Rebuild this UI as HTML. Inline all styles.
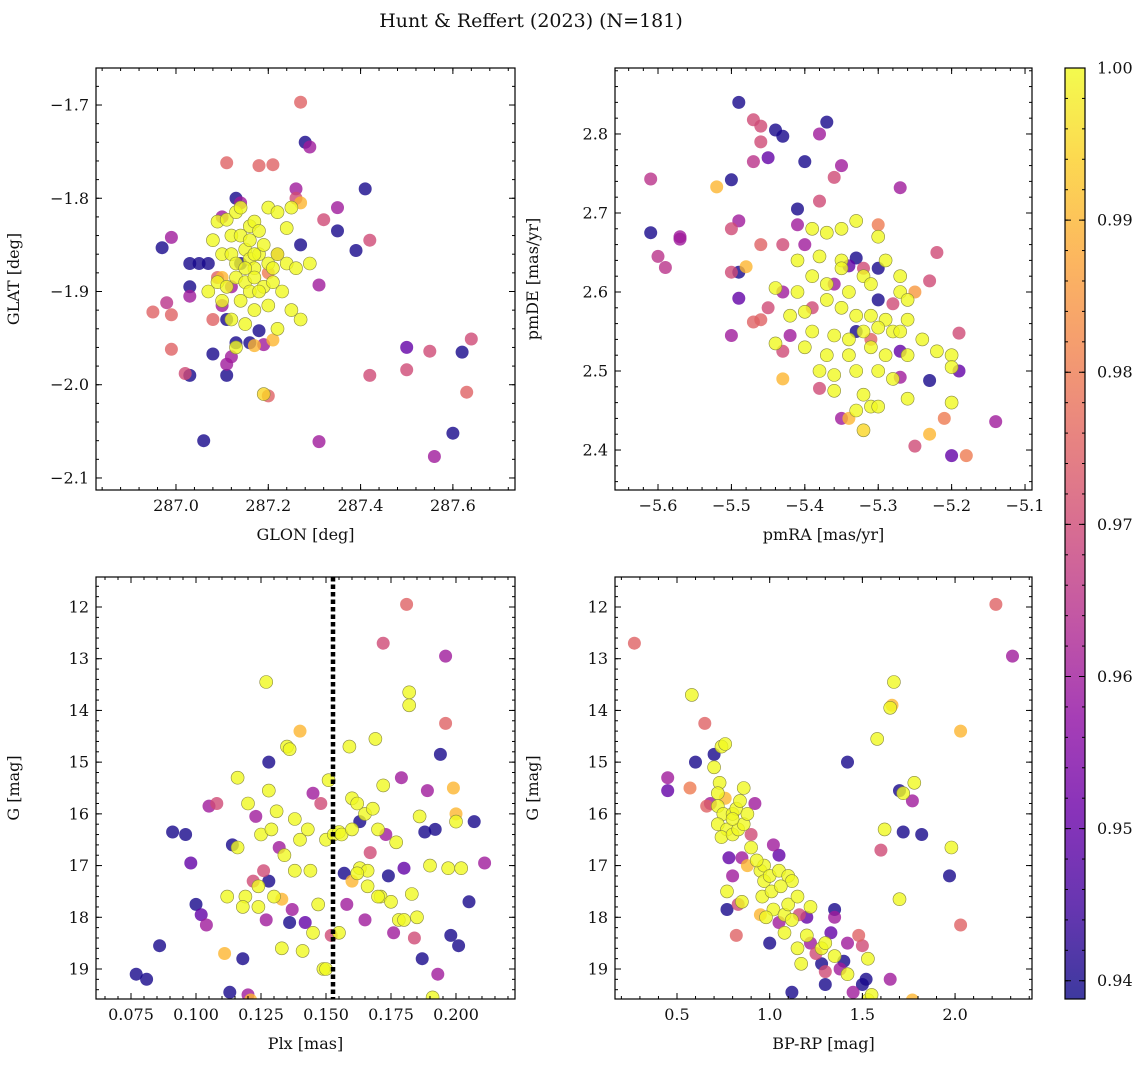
<!DOCTYPE html>
<html><head><meta charset="utf-8"><style>
body{margin:0;background:#fff;}
svg text{font-family:"DejaVu Serif","Liberation Serif",serif;fill:#111;}
</style></head><body>
<svg id="fig" width="1148" height="1067" xmlns="http://www.w3.org/2000/svg">
<rect width="1148" height="1067" fill="#fff"/>
<text x="531" y="27" font-size="19" text-anchor="middle">Hunt &amp; Reffert (2023) (N=181)</text>
</svg>
<script>
// Panel 1: GLON, GLAT, prob
const skyPoints=[[287.27,-1.697,0.975],[287.28,-1.74,0.94],[287.29,-1.745,0.96],[287.41,-1.79,0.94],[287.35,-1.81,0.96],[287.32,-1.823,0.97],[287.35,-1.835,0.94],[287.39,-1.856,0.94],[287.42,-1.845,0.97],[287.11,-1.762,0.975],[287.18,-1.765,0.975],[287.21,-1.764,0.975],[286.97,-1.853,0.94],[286.99,-1.842,0.96],[287.03,-1.87,0.94],[287.05,-1.87,0.94],[287.07,-1.87,0.94],[286.95,-1.922,0.975],[286.98,-1.912,0.965],[286.99,-1.925,0.975],[286.99,-1.962,0.975],[287.03,-1.895,0.94],[287.03,-1.905,0.96],[287.02,-1.988,0.97],[287.03,-1.99,0.94],[287.06,-2.06,0.94],[287.08,-1.967,0.94],[287.08,-1.93,0.975],[287.11,-1.99,0.94],[287.11,-1.978,0.96],[287.12,-1.97,0.96],[287.13,-1.955,0.94],[287.16,-1.955,0.94],[287.17,-1.958,0.99],[287.18,-1.942,0.94],[287.19,-1.957,0.96],[287.21,-1.952,0.99],[287.19,-2.01,0.995],[287.2,-2.012,0.975],[287.31,-1.893,0.96],[287.27,-1.85,0.94],[287.31,-2.061,0.96],[287.42,-1.99,0.97],[287.5,-1.96,0.95],[287.5,-1.984,0.97],[287.55,-1.964,0.97],[287.56,-2.077,0.96],[287.6,-2.052,0.94],[287.62,-1.965,0.94],[287.63,-2.008,0.975],[287.64,-1.951,0.97],[287.26,-1.79,0.96],[287.26,-1.8,0.97],[287.27,-1.805,0.99],[287.13,-1.8,0.94],[287.14,-1.805,0.96],[287.1,-1.82,0.96],[287.09,-1.885,0.975],[287.1,-1.885,0.99],[287.12,-1.895,0.96],[287.14,-1.87,0.94],[287.2,-1.88,0.98],[287.22,-1.86,0.97],[287.1,-1.915,0.96],[287.11,-1.93,0.94],
[287.09,-1.825,1],[287.11,-1.823,1],[287.13,-1.815,1],[287.14,-1.81,1],[287.12,-1.84,1],[287.14,-1.84,1],[287.16,-1.83,1],[287.17,-1.825,1],[287.18,-1.835,1],[287.2,-1.81,1],[287.22,-1.815,1],[287.24,-1.832,1],[287.25,-1.81,1],[287.08,-1.845,1],[287.1,-1.86,1],[287.12,-1.86,1],[287.13,-1.87,1],[287.15,-1.855,1],[287.16,-1.865,1],[287.17,-1.875,1],[287.18,-1.86,1],[287.19,-1.85,1],[287.2,-1.87,1],[287.21,-1.875,1],[287.22,-1.86,1],[287.24,-1.87,1],[287.26,-1.875,1],[287.29,-1.87,1],[287.09,-1.89,1],[287.11,-1.895,1],[287.13,-1.885,1],[287.15,-1.89,1],[287.16,-1.9,1],[287.17,-1.885,1],[287.19,-1.895,1],[287.21,-1.89,1],[287.23,-1.9,1],[287.14,-1.91,1],[287.17,-1.92,1],[287.2,-1.915,1],[287.25,-1.92,1],[287.12,-1.93,1],[287.15,-1.935,1],[287.13,-1.96,1],[287.22,-1.94,1],[287.27,-1.93,1],[287.1,-1.91,1],[287.15,-1.875,1],[287.17,-1.86,1],[287.16,-1.845,1],[287.18,-1.9,1],[287.07,-1.9,1]];
// Panel 2: pmRA, pmDE, prob
const pmPoints=[[-5.49,2.84,0.94],[-5.44,2.805,0.94],[-5.43,2.797,0.94],[-5.37,2.815,0.94],[-5.38,2.8,0.96],[-5.46,2.81,0.97],[-5.47,2.818,0.97],[-5.46,2.79,0.97],[-5.47,2.765,0.965],[-5.45,2.77,0.95],[-5.5,2.742,0.94],[-5.52,2.733,0.99],[-5.61,2.743,0.965],[-5.61,2.675,0.94],[-5.57,2.667,0.96],[-5.57,2.67,0.96],[-5.6,2.645,0.965],[-5.59,2.631,0.965],[-5.4,2.765,0.94],[-5.35,2.76,0.96],[-5.36,2.745,0.97],[-5.38,2.715,0.97],[-5.27,2.732,0.96],[-5.41,2.705,0.94],[-5.49,2.69,0.96],[-5.5,2.68,0.97],[-5.49,2.625,0.94],[-5.5,2.625,0.97],[-5.48,2.632,0.99],[-5.49,2.592,0.95],[-5.5,2.545,0.96],[-5.47,2.562,0.975],[-5.46,2.565,0.975],[-5.45,2.58,0.97],[-5.42,2.545,0.96],[-5.43,2.525,0.97],[-5.43,2.49,0.99],[-5.38,2.478,0.97],[-5.35,2.44,0.96],[-5.34,2.44,0.99],[-5.32,2.425,0.995],[-5.23,2.42,0.99],[-5.25,2.405,0.97],[-5.21,2.44,0.98],[-5.2,2.393,0.95],[-5.18,2.393,0.98],[-5.14,2.436,0.96],[-5.19,2.5,0.95],[-5.19,2.548,0.97],[-5.22,2.65,0.97],[-5.23,2.614,0.97],[-5.23,2.488,0.94],[-5.27,2.492,0.96],[-5.27,2.525,0.95],[-5.3,2.63,0.94],[-5.3,2.59,0.94],[-5.32,2.63,0.97],[-5.34,2.633,0.95],[-5.4,2.66,0.96],[-5.41,2.685,0.96],[-5.43,2.66,0.97],[-5.46,2.66,0.975],[-5.3,2.685,0.98],[-5.33,2.643,0.94],[-5.36,2.61,0.96],[-5.39,2.58,0.97],[-5.43,2.6,0.96],[-5.28,2.585,0.97],[-5.25,2.6,0.985],[-5.31,2.54,0.975],[-5.33,2.55,0.94],
[-5.39,2.68,1],[-5.37,2.675,1],[-5.35,2.68,1],[-5.33,2.69,1],[-5.3,2.67,1],[-5.41,2.64,1],[-5.38,2.645,1],[-5.35,2.64,1],[-5.29,2.64,1],[-5.27,2.62,1],[-5.44,2.605,1],[-5.41,2.6,1],[-5.39,2.62,1],[-5.37,2.61,1],[-5.34,2.6,1],[-5.32,2.62,1],[-5.31,2.61,1],[-5.27,2.6,1],[-5.26,2.59,1],[-5.42,2.57,1],[-5.4,2.575,1],[-5.37,2.59,1],[-5.35,2.58,1],[-5.33,2.57,1],[-5.31,2.57,1],[-5.29,2.565,1],[-5.26,2.565,1],[-5.39,2.55,1],[-5.36,2.545,1],[-5.34,2.54,1],[-5.32,2.55,1],[-5.3,2.555,1],[-5.28,2.55,1],[-5.4,2.53,1],[-5.37,2.52,1],[-5.34,2.52,1],[-5.31,2.53,1],[-5.29,2.52,1],[-5.26,2.52,1],[-5.38,2.5,1],[-5.36,2.495,1],[-5.33,2.5,1],[-5.3,2.5,1],[-5.2,2.52,1],[-5.2,2.505,1],[-5.22,2.525,1],[-5.24,2.54,1],[-5.28,2.49,1],[-5.32,2.47,1],[-5.31,2.455,1],[-5.33,2.45,1],[-5.3,2.455,1],[-5.26,2.465,1],[-5.36,2.475,1],[-5.44,2.535,1],[-5.35,2.63,1],[-5.2,2.46,1],[-5.27,2.55,1]];
// Panel 3: Plx, G, prob
const plxPoints=[[0.077,19.1,0.94],[0.081,19.2,0.94],[0.086,18.55,0.94],[0.091,16.35,0.94],[0.096,16.4,0.94],[0.098,16.95,0.95],[0.1,17.75,0.94],[0.102,17.95,0.95],[0.104,18.15,0.96],[0.105,15.85,0.96],[0.108,15.8,0.97],[0.111,18.7,0.99],[0.113,19.45,0.94],[0.114,16.6,0.94],[0.116,16.65,1],[0.116,15.3,1],[0.118,18.8,0.94],[0.119,17.6,1],[0.12,19.5,0.96],[0.121,19.6,0.99],[0.12,15.8,1],[0.122,17.3,0.97],[0.123,16.05,0.96],[0.124,17.4,1],[0.125,16.4,1],[0.126,17.1,0.97],[0.127,18.05,0.96],[0.128,17.3,0.94],[0.128,15.55,1],[0.129,16.3,1],[0.13,17.6,1],[0.128,15.0,0.94],[0.127,13.45,1],[0.131,15.95,1],[0.132,16.65,0.96],[0.133,17.65,0.99],[0.133,18.6,1],[0.134,16.8,1],[0.135,14.7,1],[0.136,14.75,1],[0.136,18.1,0.94],[0.137,17.85,0.96],[0.138,16.1,1],[0.14,14.4,0.99],[0.14,16.5,1],[0.141,18.65,1],[0.142,18.1,0.95],[0.143,16.3,1],[0.144,17.1,1],[0.145,15.6,0.96],[0.147,17.75,1],[0.148,15.8,0.97],[0.149,19.0,1],[0.15,16.5,1],[0.151,15.35,1],[0.152,18.35,0.97],[0.153,16.4,1],[0.155,16.35,1],[0.156,16.4,1],[0.157,17.15,0.94],[0.158,17.75,0.96],[0.159,14.7,1],[0.16,15.7,1],[0.16,17.3,0.99],[0.162,15.8,1],[0.163,17.05,1],[0.163,16.15,0.94],[0.165,18.05,0.96],[0.165,16.0,1],[0.166,17.4,1],[0.167,16.75,0.97],[0.168,15.9,1],[0.169,14.55,1],[0.17,16.3,1],[0.171,17.6,1],[0.172,12.7,0.97],[0.172,15.45,1],[0.173,16.4,0.96],[0.174,17.2,0.94],[0.175,17.7,1],[0.176,18.3,0.96],[0.177,16.55,1],[0.178,18.05,1],[0.179,15.3,0.96],[0.18,17.05,0.95],[0.181,11.95,0.975],[0.182,13.9,1],[0.182,13.65,1],[0.183,17.55,1],[0.184,18.4,0.97],[0.185,18.0,1],[0.186,16.05,1],[0.187,18.8,0.94],[0.188,16.35,0.94],[0.189,15.55,0.96],[0.19,17.0,1],[0.191,19.55,1],[0.192,16.3,0.94],[0.193,19.1,0.96],[0.194,14.85,0.94],[0.196,12.95,0.96],[0.196,14.25,0.975],[0.197,17.05,1],[0.198,18.35,0.94],[0.199,15.5,0.99],[0.2,16.0,0.99],[0.2,16.15,1],[0.201,18.55,0.94],[0.202,17.05,1],[0.205,17.7,0.94],[0.207,16.15,0.94],[0.211,16.95,0.96],[0.166,17.1,1],[0.16,16.3,1],[0.162,17.15,1],[0.15,19.0,1],[0.145,18.3,1],[0.138,17.1,1],[0.124,17.8,1],[0.118,17.8,1],[0.112,17.6,1],[0.155,18.3,1],[0.17,17.6,1],[0.18,18.05,1]];
const plxCut=[0.1527];
// Panel 4: BP-RP, G, prob
const cmdPoints=[[0.27,12.7,0.975],[2.22,11.95,0.975],[2.31,12.95,0.96],[0.58,13.7,1],[0.65,14.25,0.975],[0.57,15.5,0.98],[0.45,15.3,0.96],[0.45,15.55,0.95],[0.6,15.0,0.94],[0.7,14.85,0.94],[0.74,14.7,1],[0.76,14.65,1],[0.7,15.1,1],[0.73,15.4,1],[0.72,15.6,1],[0.76,15.7,0.99],[0.68,15.8,0.96],[0.66,15.85,0.975],[0.72,15.85,1],[0.75,16.0,1],[0.72,16.2,1],[0.77,16.3,1],[0.74,16.45,1],[0.8,16.0,1],[0.82,15.9,1],[0.84,15.75,1],[0.86,15.5,1],[0.8,16.4,1],[0.83,16.3,1],[0.86,16.2,1],[0.9,16.4,0.97],[0.78,16.85,0.95],[0.8,17.2,0.96],[0.77,17.5,1],[0.77,17.85,0.94],[0.85,16.85,0.96],[0.88,17.0,0.99],[0.83,17.75,0.97],[0.85,17.7,1],[0.82,18.35,0.975],[0.95,17.1,1],[0.97,17.0,1],[0.97,17.3,1],[0.96,17.6,1],[1.0,17.2,1],[1.01,17.5,1],[1.02,17.85,1],[1.05,17.1,1],[1.02,16.6,0.96],[1.05,16.8,0.95],[0.95,17.95,0.99],[0.98,18.0,1],[1.05,18.1,0.96],[1.0,18.5,0.94],[1.08,17.95,1],[1.08,18.3,1],[1.1,17.75,1],[1.15,17.6,1],[1.16,17.95,0.97],[1.12,18.05,1],[1.2,18.0,0.95],[1.22,17.8,1],[1.2,18.35,1],[1.22,18.5,0.96],[1.15,18.6,1],[1.17,18.9,1],[1.12,19.45,0.94],[1.25,18.7,0.97],[1.28,18.6,1],[1.3,18.5,1],[1.28,18.9,0.94],[1.3,19.05,0.97],[1.3,19.3,0.94],[1.33,18.3,0.95],[1.35,17.85,0.94],[1.35,18.0,0.96],[1.35,18.75,1],[1.38,19.0,0.96],[1.4,18.85,0.94],[1.42,19.1,1],[1.42,18.5,0.96],[1.45,19.45,0.96],[1.5,19.3,0.94],[1.52,19.2,0.94],[1.5,18.55,0.97],[1.48,18.35,0.975],[1.53,18.8,1],[1.53,19.6,1],[1.55,19.5,1],[1.65,19.2,0.96],[1.77,19.6,0.99],[1.42,15.0,0.94],[1.58,14.55,1],[1.62,16.3,1],[1.67,13.45,1],[1.66,13.9,0.99],[1.65,13.95,1],[1.7,15.55,0.94],[1.72,15.6,1],[1.72,16.35,0.94],[1.78,15.4,1],[1.77,15.75,0.96],[1.82,16.4,0.94],[1.7,17.65,1],[1.6,16.7,0.97],[1.98,16.65,1],[1.97,17.2,0.94],[2.03,14.4,0.99],[2.03,18.15,0.975],[0.88,16.0,1],[0.92,15.8,0.96],[0.9,16.65,1],[0.93,16.9,1],[0.8,16.1,1],[1.1,17.2,1],[1.12,17.3,1],[1.06,17.4,1]];
const cbTicks=[0.94,0.95,0.96,0.97,0.98,0.99,1.00];
const cMin=0.9388,cMax=1.0;

const NS="http://www.w3.org/2000/svg";
const fig=document.getElementById('fig');
function mk(tag,attrs,parent){const e=document.createElementNS(NS,tag);for(const k in attrs)e.setAttribute(k,attrs[k]);(parent||fig).appendChild(e);return e;}
const stops=[[13,8,135],[65,4,157],[106,0,168],[143,13,164],[177,42,144],[204,71,120],[225,100,98],[242,132,75],[252,166,54],[252,206,37],[240,249,33]];
function plasma(t){t=Math.max(0,Math.min(1,t));const f=t*10,i=Math.min(9,Math.floor(f)),r=f-i;const a=stops[i],b=stops[i+1];return `rgb(${[0,1,2].map(k=>Math.round(a[k]+(b[k]-a[k])*r)).join(',')})`;}
function col(c){return plasma((c-cMin)/(cMax-cMin));}

function panel(name,box,xr,yr,xMaj,xMin,yMaj,yMin,xFmt,yFmt,xlabel,ylabel,pts){
  const [L,T,R,B]=box;
  const sx=v=>L+(v-xr[0])/(xr[1]-xr[0])*(R-L);
  const sy=v=>T+(v-yr[0])/(yr[1]-yr[0])*(B-T);
  const g=mk('g',{});
  
  
  const clipId=name+'-clip';
  const cp=mk('clipPath',{id:clipId},g);mk('rect',{x:L,y:T,width:R-L,height:B-T},cp);
  const pg=mk('g',{'clip-path':`url(#${clipId})`},g);
  
  
  const sorted=pts.slice().sort((a,b)=>a[2]-b[2]);
  sorted.forEach(p=>{
    const hi=p[2]>=0.993;
    const c=mk('circle',{cx:sx(p[0]).toFixed(1),cy:sy(p[1]).toFixed(1),r:6.5,fill:col(p[2]),'fill-opacity':0.8,stroke:hi?'#8a8a40':'none','stroke-width':0.6},pg);
    
    
  });
  mk('rect',{x:L,y:T,width:R-L,height:B-T,fill:'none',stroke:'#000','stroke-width':1.2},g);
  const tl=(v0,v1,step)=>{const a=[];const s=Math.ceil(Math.min(v0,v1)/step-1e-6);for(let k=s;k*step<=Math.max(v0,v1)+1e-9;k++)a.push(+(k*step).toFixed(6));return a;};
  tl(xr[0],xr[1],xMin).forEach(v=>{const x=sx(v);mk('line',{x1:x,x2:x,y1:B,y2:B-3,stroke:'#000'},g);mk('line',{x1:x,x2:x,y1:T,y2:T+3,stroke:'#000'},g);});
  tl(yr[0],yr[1],yMin).forEach(v=>{const y=sy(v);mk('line',{x1:L,x2:L+3,y1:y,y2:y,stroke:'#000'},g);mk('line',{x1:R,x2:R-3,y1:y,y2:y,stroke:'#000'},g);});
  tl(xr[0],xr[1],xMaj).forEach(v=>{const x=sx(v);mk('line',{x1:x,x2:x,y1:B,y2:B-6,stroke:'#000'},g);mk('line',{x1:x,x2:x,y1:T,y2:T+6,stroke:'#000'},g);
    const t=mk('text',{x:x,y:B+21,'font-size':16,'text-anchor':'middle'},g);t.textContent=xFmt(v);
    
    });
  tl(yr[0],yr[1],yMaj).forEach(v=>{const y=sy(v);mk('line',{x1:L,x2:L+6,y1:y,y2:y,stroke:'#000'},g);mk('line',{x1:R,x2:R-6,y1:y,y2:y,stroke:'#000'},g);
    const t=mk('text',{x:L-7,y:y+5.5,'font-size':16,'text-anchor':'end'},g);t.textContent=yFmt(v);
    
    });
  const xt=mk('text',{x:(L+R)/2,y:B+50,'font-size':16,'text-anchor':'middle'},g);xt.textContent=xlabel;
  
  
  const yx=L-77;const yt=mk('text',{x:yx,y:(T+B)/2,'font-size':16,'text-anchor':'middle',transform:`rotate(-90 ${yx} ${(T+B)/2})`},g);yt.textContent=ylabel;
  
  
  return {g,sx,sy,T,B};
}
const minus=s=>s.replace('-','\u2212');
panel('glon-glat-panel',[96,68,515,490],[286.8267,287.7346],[-1.6603,-2.1129],0.2,0.04,0.1,0.02,v=>v.toFixed(1),v=>minus(v.toFixed(1)),'GLON [deg]','GLAT [deg]',skyPoints);
panel('pm-panel',[615,68,1032,490],[-5.6586,-5.0905],[2.8835,2.3494],0.1,0.02,0.1,0.02,v=>minus(v.toFixed(1)),v=>v.toFixed(1),'pmRA [mas/yr]','pmDE [mas/yr]',pmPoints);
const p3=panel('plx-g-panel',[96,577,515,999],[0.06154,0.2227],[11.42,19.58],0.025,0.005,1,0.2,v=>v.toFixed(3),v=>v.toFixed(0),'Plx [mas]','G [mag]',plxPoints);
plxCut.forEach(v=>{const l=mk('line',{x1:p3.sx(v),x2:p3.sx(v),y1:p3.T,y2:p3.B,stroke:'#000','stroke-width':4.5,'stroke-dasharray':'4.5 3'},p3.g);
  
  });
panel('cmd-panel',[615,577,1032,999],[0.1656,2.415],[11.42,19.58],0.5,0.1,1,0.2,v=>v.toFixed(1),v=>v.toFixed(0),'BP-RP [mag]','G [mag]',cmdPoints);

// colorbar
const cb=mk('g',{});


const grad=mk('linearGradient',{id:'cbg',x1:0,y1:1,x2:0,y2:0},mk('defs',{},cb));
for(let i=0;i<=20;i++)mk('stop',{offset:i/20,'stop-color':plasma(i/20),'stop-opacity':0.8},grad);
const cT=68,cB=999,cL=1065,cR=1085;
mk('rect',{x:cL,y:cT,width:cR-cL,height:cB-cT,fill:'url(#cbg)',stroke:'#000','stroke-width':1.2},cb);
const cy=v=>cB-(v-cMin)/(cMax-cMin)*(cB-cT);
for(let k=0;k<=31;k++){const v=0.938+k*0.002;if(v<cMin||v>cMax+1e-9)continue;const y=cy(v);mk('line',{x1:cR,x2:cR-3,y1:y,y2:y,stroke:'#000'},cb);mk('line',{x1:cL,x2:cL+3,y1:y,y2:y,stroke:'#000'},cb);}
cbTicks.forEach(v=>{const y=cy(v);mk('line',{x1:cR,x2:cR-6,y1:y,y2:y,stroke:'#000'},cb);mk('line',{x1:cL,x2:cL+6,y1:y,y2:y,stroke:'#000'},cb);
  const t=mk('text',{x:cR+12,y:y+5.5,'font-size':16},cb);t.textContent=v.toFixed(2);
  
  });
</script>
</body></html>
